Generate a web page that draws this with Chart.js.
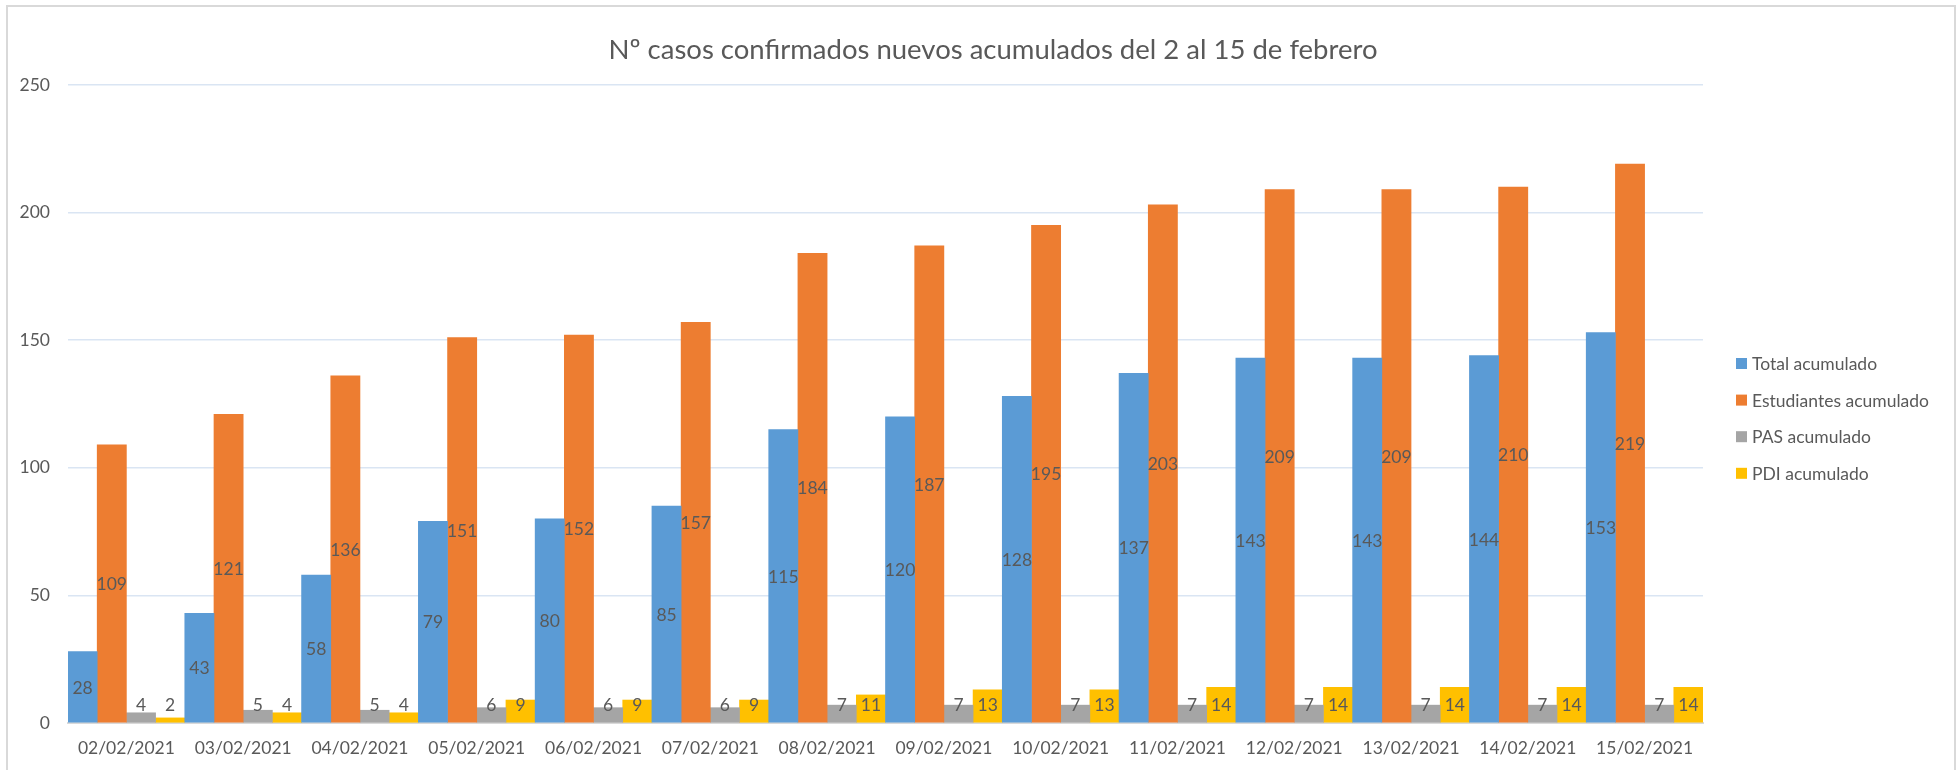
<!DOCTYPE html>
<html>
<head>
<meta charset="utf-8">
<title>Casos confirmados acumulados</title>
<script src="https://cdn.jsdelivr.net/npm/chart.js@4.4.1/dist/chart.umd.min.js"></script>
<style>
    html, body { margin: 0; padding: 0; background: #ffffff; }
    #wrap { width: 1959px; height: 770px; }
</style>
</head>
<body>
<div id="wrap"><canvas id="casesChart" width="1959" height="770"></canvas></div>
<script>
const chartTitle = 'Nº casos confirmados nuevos acumulados del 2 al 15 de febrero';

const dates = [
    '02/02/2021', '03/02/2021', '04/02/2021', '05/02/2021', '06/02/2021', '07/02/2021', '08/02/2021',
    '09/02/2021', '10/02/2021', '11/02/2021', '12/02/2021', '13/02/2021', '14/02/2021', '15/02/2021'
];

const seriesNames = ['Total acumulado', 'Estudiantes acumulado', 'PAS acumulado', 'PDI acumulado'];

const totalAcumulado = [28, 43, 58, 79, 80, 85, 115, 120, 128, 137, 143, 143, 144, 153];
const estudiantesAcumulado = [109, 121, 136, 151, 152, 157, 184, 187, 195, 203, 209, 209, 210, 219];
const pasAcumulado = [4, 5, 5, 6, 6, 6, 7, 7, 7, 7, 7, 7, 7, 7];
const pdiAcumulado = [2, 4, 4, 9, 9, 9, 11, 13, 13, 14, 14, 14, 14, 14];

const yTicks = [0, 50, 100, 150, 200, 250];

const seriesColors = ['#5B9BD5', '#ED7D31', '#A5A5A5', '#FFC000'];
const textColor = '#595959';
const fontFamily = 'Lato, "Open Sans", sans-serif';

// frame, title and legend drawn around the plot
const decorPlugin = {
    id: 'decor',
    beforeDraw(chart) {
        const ctx = chart.ctx;
        ctx.save();
        ctx.fillStyle = '#ffffff';
        ctx.fillRect(0, 0, chart.width, chart.height);
        ctx.strokeStyle = '#D9D9D9';
        ctx.lineWidth = 2;
        ctx.strokeRect(7, 6, 1948, 800);
        ctx.restore();
    },
    afterDraw(chart) {
        const ctx = chart.ctx;
        ctx.save();
        ctx.fillStyle = textColor;
        ctx.font = '27.5px ' + fontFamily;
        ctx.textAlign = 'center';
        ctx.textBaseline = 'middle';
        ctx.fillText(chartTitle, 993, 50);

        // legend
        ctx.font = '17.5px ' + fontFamily;
        ctx.textAlign = 'left';
        chart.data.datasets.forEach((ds, i) => {
            const y = 363.5 + i * 36.6;
            ctx.fillStyle = ds.backgroundColor;
            ctx.fillRect(1736, y - 5.5, 11, 11);
            ctx.fillStyle = textColor;
            ctx.fillText(ds.label, 1752, y + 1);
        });
        ctx.restore();
    }
};

// value labels centred on each bar, kept above the axis for short bars
const barLabelsPlugin = {
    id: 'barLabels',
    afterDatasetsDraw(chart) {
        const ctx = chart.ctx;
        ctx.save();
        ctx.font = '17.5px ' + fontFamily;
        ctx.fillStyle = textColor;
        ctx.textAlign = 'center';
        ctx.textBaseline = 'middle';
        chart.data.datasets.forEach((ds, i) => {
            const meta = chart.getDatasetMeta(i);
            meta.data.forEach((bar, j) => {
                let y = (bar.y + bar.base) / 2;
                y = Math.min(y, bar.base - 18);
                ctx.fillText(ds.data[j], bar.x, y + 1);
            });
        });
        ctx.restore();
    }
};

document.addEventListener('DOMContentLoaded', function() {
    const ctx = document.getElementById('casesChart').getContext('2d');
    const seriesData = [totalAcumulado, estudiantesAcumulado, pasAcumulado, pdiAcumulado];

    window.casesChart = new Chart(ctx, {
        type: 'bar',
        data: {
            labels: dates,
            datasets: seriesNames.map((name, i) => ({
                label: name,
                data: seriesData[i],
                backgroundColor: seriesColors[i],
                borderWidth: 0,
                categoryPercentage: 1,
                barPercentage: 1
            }))
        },
        options: {
            responsive: false,
            animation: false,
            layout: {
                padding: { top: 85, right: 256, left: 0, bottom: 0 }
            },
            plugins: {
                legend: { display: false },
                title: { display: false },
                tooltip: { enabled: false }
            },
            scales: {
                x: {
                    afterFit: function(scale) { scale.height = 47; },
                    grid: { display: false, drawTicks: false },
                    border: { display: true, color: '#D9D9D9', width: 2 },
                    ticks: {
                        color: textColor,
                        padding: 15,
                        maxRotation: 0,
                        font: { family: fontFamily, size: 17.5 }
                    }
                },
                y: {
                    min: 0,
                    max: 250,
                    afterFit: function(scale) { scale.width = 68; },
                    afterBuildTicks: function(scale) {
                        scale.ticks = yTicks.map(v => ({ value: v }));
                    },
                    grid: {
                        drawTicks: false,
                        lineWidth: 1.5,
                        color: function(c) {
                            return c.tick && c.tick.value === 0 ? '#D9D9D9' : '#DAE5F3';
                        }
                    },
                    border: { display: false },
                    ticks: {
                        color: textColor,
                        padding: 18,
                        font: { family: fontFamily, size: 17.5 }
                    }
                }
            }
        },
        plugins: [decorPlugin, barLabelsPlugin]
    });
});
</script>
</body>
</html>
